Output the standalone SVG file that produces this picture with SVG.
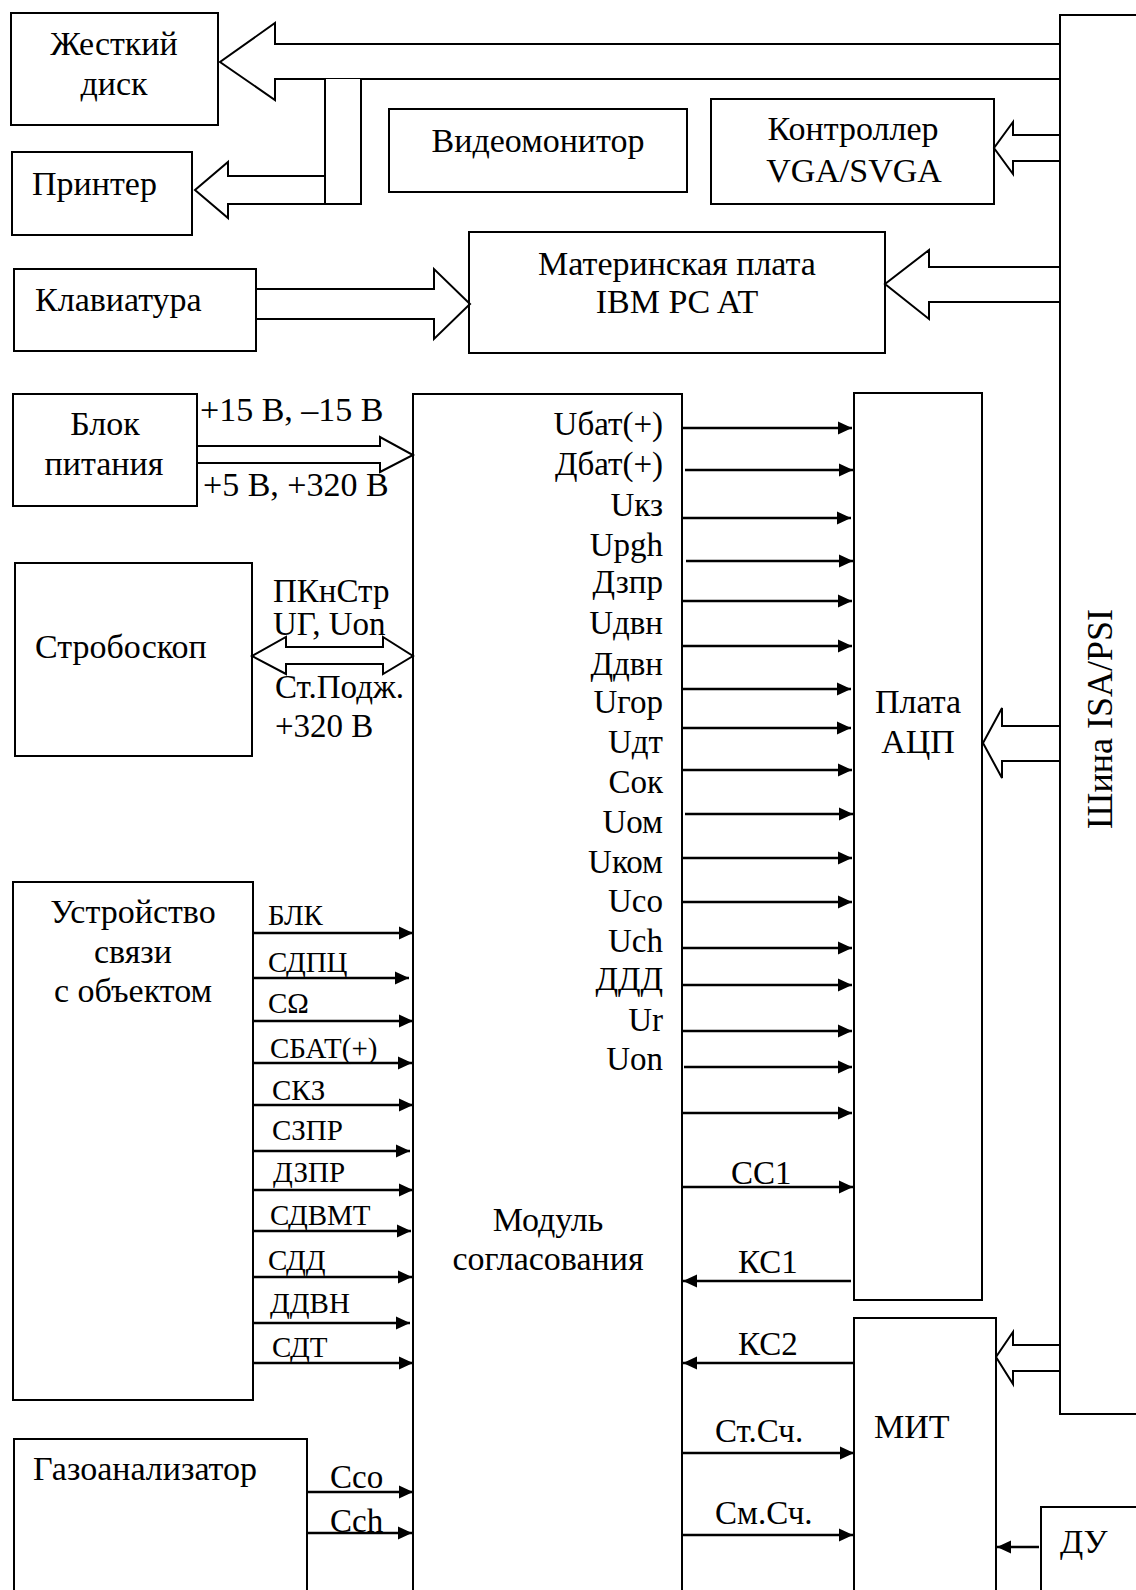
<svg xmlns="http://www.w3.org/2000/svg" width="1136" height="1590" viewBox="0 0 1136 1590">
<defs>
<style>
.box{fill:none;stroke:#000;stroke-width:2}
.big{fill:#fff;stroke:#000;stroke-width:2;stroke-linejoin:miter}
.sig{stroke:#000;stroke-width:2.5;fill:none}
text{font-family:"Liberation Serif","Times New Roman",serif;fill:#000}
.t{font-size:34px}
.s{font-size:33px}
.l{font-size:29px}
.m{text-anchor:middle}
.e{text-anchor:end}
</style>
<marker id="ah" markerUnits="userSpaceOnUse" markerWidth="15" markerHeight="14" refX="14" refY="7" orient="auto">
<path d="M0,0.5 L14,7 L0,13.5 z" fill="#000"/>
</marker>
</defs>
<rect width="1136" height="1590" fill="#fff"/>

<g id="connectors">
<polyline class="big" points="1060,44 275,44 275,23 220,62 275,100 275,79 1060,79"/>
<polyline class="big" points="325,79 325,176 228,176 228,162 195,190 228,218 228,204 361,204 361,79"/>
<line class="box" x1="325" y1="176" x2="325" y2="204"/>
<polyline class="big" points="1060,135 1013,135 1013,122 994,148 1013,174 1013,161 1060,161"/>
<polyline class="big" points="1060,267 929,267 929,250 885,284 929,319 929,302 1060,302"/>
<polygon class="big" points="256,289 434,289 434,269 470,304 434,339 434,319 256,319"/>
<polygon class="big" points="197,446 380,446 380,437 413,455 380,472 380,463 197,463"/>
<polygon class="big" points="252,656 286,637 286,647 383,647 383,637 413,656 383,674 383,664 286,664 286,674"/>
<polyline class="big" points="1060,726 1002,726 1002,708 983,743 1002,778 1002,761 1060,761"/>
<polyline class="big" points="1060,1345 1013,1345 1013,1332 996,1357 1013,1384 1013,1371 1060,1371"/>

<g marker-end="url(#ah)" class="sig">
<line x1="683" y1="428" x2="852" y2="428"/>
<line x1="685" y1="470" x2="853" y2="470"/>
<line x1="683" y1="518" x2="851" y2="518"/>
<line x1="686" y1="561" x2="853" y2="561"/>
<line x1="683" y1="601" x2="852" y2="601"/>
<line x1="683" y1="646" x2="852" y2="646"/>
<line x1="683" y1="689" x2="851" y2="689"/>
<line x1="683" y1="728" x2="851" y2="728"/>
<line x1="683" y1="770" x2="852" y2="770"/>
<line x1="685" y1="814" x2="853" y2="814"/>
<line x1="683" y1="858" x2="852" y2="858"/>
<line x1="683" y1="902" x2="852" y2="902"/>
<line x1="683" y1="948" x2="852" y2="948"/>
<line x1="683" y1="985" x2="852" y2="985"/>
<line x1="683" y1="1031" x2="852" y2="1031"/>
<line x1="684" y1="1067" x2="852" y2="1067"/>
<line x1="683" y1="1113" x2="852" y2="1113"/>
<line x1="683" y1="1187" x2="853" y2="1187"/>
<line x1="851" y1="1281" x2="683" y2="1281"/>
<line x1="853" y1="1363" x2="683" y2="1363"/>
<line x1="683" y1="1453" x2="854" y2="1453"/>
<line x1="683" y1="1535" x2="853" y2="1535"/>
<line x1="1039" y1="1547" x2="997" y2="1547"/>
<line x1="253" y1="933" x2="413" y2="933"/>
<line x1="253" y1="978" x2="409" y2="978"/>
<line x1="253" y1="1021" x2="413" y2="1021"/>
<line x1="253" y1="1063" x2="412" y2="1063"/>
<line x1="253" y1="1105" x2="413" y2="1105"/>
<line x1="253" y1="1151" x2="410" y2="1151"/>
<line x1="253" y1="1190" x2="413" y2="1190"/>
<line x1="253" y1="1231" x2="411" y2="1231"/>
<line x1="253" y1="1277" x2="412" y2="1277"/>
<line x1="253" y1="1323" x2="410" y2="1323"/>
<line x1="253" y1="1363" x2="413" y2="1363"/>
<line x1="308" y1="1492" x2="413" y2="1492"/>
<line x1="308" y1="1533" x2="412" y2="1533"/>
</g>
</g>

<g id="disk"><rect class="box" x="11" y="13" width="207" height="112"/>
<text class="t m" x="114" y="55">Жесткий</text><text class="t m" x="114" y="95">диск</text></g>
<g id="printer"><rect class="box" x="12" y="152" width="180" height="83"/>
<text class="t" x="32" y="195">Принтер</text></g>
<g id="monitor"><rect class="box" x="389" y="109" width="298" height="83"/>
<text class="t m" x="538" y="152">Видеомонитор</text></g>
<g id="vga"><rect class="box" x="711" y="99" width="283" height="105"/>
<text class="t m" x="853" y="140">Контроллер</text><text class="t m" x="854" y="182">VGA/SVGA</text></g>
<g id="keyboard"><rect class="box" x="14" y="269" width="242" height="82"/>
<text class="t" x="35" y="311">Клавиатура</text></g>
<g id="motherboard"><rect class="box" x="469" y="232" width="416" height="121"/>
<text class="t m" x="677" y="275">Материнская плата</text><text class="t m" x="677" y="313">IBM PC AT</text></g>
<g id="psu"><rect class="box" x="13" y="394" width="184" height="112"/>
<text class="t m" x="105" y="435">Блок</text><text class="t m" x="104" y="475">питания</text>
<text class="t" x="200" y="421">+15 В, –15 В</text><text class="t" x="203" y="496">+5 В, +320 В</text></g>
<g id="strobe"><rect class="box" x="15" y="563" width="237" height="193"/>
<text class="t" x="35" y="658">Стробоскоп</text>
<text class="s" x="273" y="602">ПКнСтр</text><text class="s" x="273" y="635">UГ, Uon</text>
<text class="s" x="275" y="698">Ст.Подж.</text><text class="s" x="275" y="737">+320 В</text></g>
<g id="uso"><rect class="box" x="13" y="882" width="240" height="518"/>
<text class="t m" x="133" y="923">Устройство</text><text class="t m" x="133" y="963">связи</text><text class="t m" x="133" y="1002">с объектом</text>
<text class="l" x="268" y="925">БЛК</text>
<text class="l" x="268" y="972">СДПЦ</text>
<text class="l" x="268" y="1013">СΩ</text>
<text class="l" x="270" y="1058">СБАТ(+)</text>
<text class="l" x="272" y="1100">СКЗ</text>
<text class="l" x="272" y="1140">СЗПР</text>
<text class="l" x="273" y="1182">ДЗПР</text>
<text class="l" x="270" y="1225">СДВМТ</text>
<text class="l" x="268" y="1270">СДД</text>
<text class="l" x="270" y="1313">ДДВН</text>
<text class="l" x="272" y="1357">СДТ</text>
</g>
<g id="gas"><rect class="box" x="14" y="1439" width="293" height="170"/>
<text class="t" x="33" y="1480">Газоанализатор</text>
<text class="s" x="330" y="1488">Cco</text><text class="s" x="330" y="1532">Cch</text></g>
<g id="module"><rect class="box" x="413" y="394" width="269" height="1220"/>
<text class="t m" x="548" y="1231">Модуль</text><text class="t m" x="548" y="1270">согласования</text>
<text class="s e" x="663" y="435">Uбат(+)</text>
<text class="s e" x="663" y="475">Дбат(+)</text>
<text class="s e" x="663" y="516">Uкз</text>
<text class="s e" x="663" y="556">Upgh</text>
<text class="s e" x="663" y="593">Дзпр</text>
<text class="s e" x="663" y="634">Uдвн</text>
<text class="s e" x="663" y="675">Ддвн</text>
<text class="s e" x="663" y="713">Uгор</text>
<text class="s e" x="663" y="753">Uдт</text>
<text class="s e" x="663" y="793">Сок</text>
<text class="s e" x="663" y="833">Uом</text>
<text class="s e" x="663" y="873">Uком</text>
<text class="s e" x="663" y="912">Uco</text>
<text class="s e" x="663" y="952">Uch</text>
<text class="s e" x="663" y="990">ДДД</text>
<text class="s e" x="663" y="1031">Ur</text>
<text class="s e" x="663" y="1070">Uon</text>
<text class="s" x="731" y="1184">СС1</text>
<text class="s" x="738" y="1273">КС1</text>
<text class="s" x="738" y="1355">КС2</text>
<text class="s" x="715" y="1442">Ст.Сч.</text>
<text class="s" x="715" y="1524">См.Сч.</text></g>
<g id="adc"><rect class="box" x="854" y="393" width="128" height="907"/>
<text class="t m" x="918" y="713">Плата</text><text class="t m" x="918" y="753">АЦП</text></g>
<g id="mit"><rect class="box" x="854" y="1318" width="142" height="300"/>
<text class="t" x="874" y="1438">МИТ</text></g>
<g id="du"><rect class="box" x="1041" y="1507" width="120" height="120"/>
<text class="t" x="1060" y="1553">ДУ</text></g>
<g id="bus"><rect class="box" x="1060" y="15" width="100" height="1399"/>
<text class="t m" transform="translate(1112,719) rotate(-90)" style="font-size:36px">Шина ISA/PSI</text></g>
</svg>
